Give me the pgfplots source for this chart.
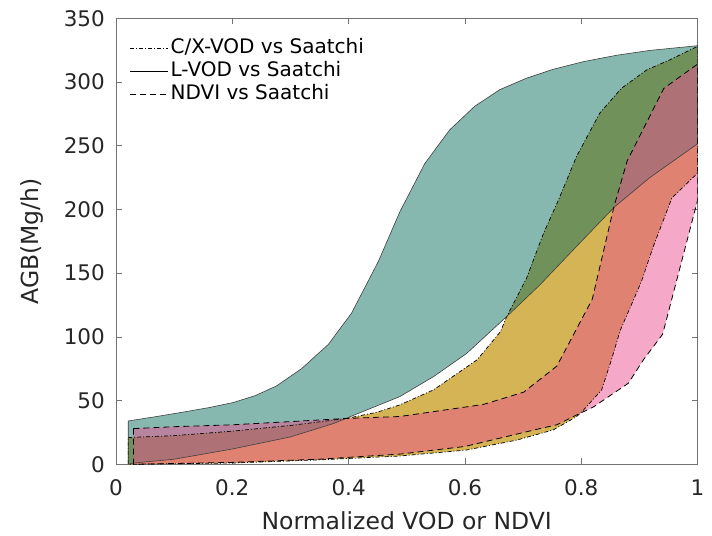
\documentclass[border=0pt]{standalone}
\usepackage{fontspec}
\setmainfont{DejaVu Sans}
\usepackage{pgfplots}
\usepackage{pgfplotstable}
\pgfplotsset{compat=1.18}

\definecolor{cxgold}{RGB}{212,180,84}
\definecolor{lteal}{RGB}{13,113,97}
\definecolor{ndvipink}{RGB}{237,81,145}
\definecolor{txtgray}{RGB}{38,38,38}

% C/X-VOD band: upper edge, then lower edge backwards
\pgfplotstableread{
x y
0.021 21
0.1 22.5
0.2 26
0.3 30.5
0.397 36
0.45 41
0.488 46.6
0.546 58.4
0.621 82
0.661 104
0.672 116
0.706 146
0.735 181
0.761 207.5
0.792 241.6
0.832 275.6
0.869 295
0.913 309.6
0.953 317.5
1 328
1 228.5
0.956 209
0.924 171
0.904 144
0.89 129
0.867 105
0.852 82
0.835 58.3
0.804 42.6
0.792 37.4
0.752 27
0.689 19
0.603 11.2
0.488 6.5
0.35 3.5
0.2 1
0.021 0
}\cxband

% L-VOD band
\pgfplotstableread{
x y
0.021 34
0.07 37.5
0.116 41
0.16 44.5
0.202 48.5
0.24 54
0.276 61.5
0.319 75
0.365 94
0.405 118.6
0.451 159
0.488 198
0.531 236
0.574 262.5
0.617 281
0.66 294
0.706 303
0.752 310
0.804 316
0.861 321
0.918 324.8
1 328.5
1 251.5
0.918 225
0.858 202.3
0.792 171
0.729 140.8
0.672 116
0.603 87
0.546 68.8
0.488 53.1
0.431 42.6
0.374 32
0.3 21.5
0.2 12
0.1 4
0.03 1
0.021 0
}\lband

% NDVI band
\pgfplotstableread{
x y
0.03 28
0.1 29.5
0.2 31
0.3 33.5
0.397 36
0.488 37.5
0.632 47
0.701 56.6
0.758 77
0.819 129.5
0.856 201.6
0.879 238
0.942 295
1 314
1 207
0.94 102
0.907 82
0.881 63.6
0.821 45
0.792 38.7
0.758 31
0.729 28
0.6 14
0.488 8
0.35 4
0.2 1.5
0.03 0
}\ndviband

\begin{document}
\begin{tikzpicture}
\path[use as bounding box] (-116bp,-71.7bp) rectangle (596bp,464.3bp);
\begin{axis}[
  scale only axis, width=581.5bp, height=446bp,
  xmin=0, xmax=1, ymin=0, ymax=350,
  xtick={0,0.2,0.4,0.6,0.8,1}, ytick={0,50,100,150,200,250,300,350},
  tick align=inside, major tick length=6bp,
  tick style={black!55, line width=0.7bp},
  axis line style={black!55, line width=0.8bp},
  /pgf/number format/assume math mode=true,
  tick label style={font=\fontsize{21.5bp}{25bp}\selectfont, text=txtgray},
  xticklabel style={anchor=base, yshift=-30.7bp},
  yticklabel style={anchor=east, inner sep=0pt, xshift=-11bp},
  xlabel={Normalized VOD or NDVI},
  ylabel={AGB(Mg/h)},
  label style={font=\fontsize{23.5bp}{28bp}\selectfont, text=txtgray},
  xlabel style={at={(axis description cs:0.5,0)}, anchor=base, inner sep=0pt, yshift=-65.5bp},
  ylabel style={at={(axis description cs:-0.145,0.5)}, anchor=center},
  legend style={draw=none, fill=none, at={(rel axis cs:0.0184,0.96)}, anchor=north west,
    font=\fontsize{20bp}{23bp}\selectfont, column sep=2bp, row sep=3bp,
    nodes={inner sep=0pt, text height=15bp, text depth=5bp}},
  legend cell align=left,
  legend image code/.code={\draw[#1] (0bp,0bp) -- (38bp,0bp);},
]
% fills
\addplot[draw=none, fill=cxgold, forget plot] table {\cxband} -- cycle;
\addplot[draw=none, fill=lteal, fill opacity=0.5, forget plot] table {\lband} -- cycle;
\addplot[draw=none, fill=ndvipink, fill opacity=0.5, forget plot] table {\ndviband} -- cycle;
% edges
\addplot[black, line width=0.7bp, dash pattern=on 4bp off 2bp on 1bp off 2bp, forget plot] table {\cxband} -- cycle;
\addplot[black!75, line width=0.6bp, forget plot] table {\lband} -- cycle;
\addplot[black, line width=0.8bp, dash pattern=on 6bp off 4bp, forget plot] table {\ndviband} -- cycle;
% legend
\addlegendimage{black, line width=0.7bp, dash pattern=on 4bp off 2bp on 1bp off 2bp}
\addlegendentry{C/X-VOD vs Saatchi}
\addlegendimage{black, line width=0.7bp}
\addlegendentry{L-VOD vs Saatchi}
\addlegendimage{black, line width=0.8bp, dash pattern=on 6bp off 4bp}
\addlegendentry{NDVI vs Saatchi}
\end{axis}
\end{tikzpicture}
\end{document}
